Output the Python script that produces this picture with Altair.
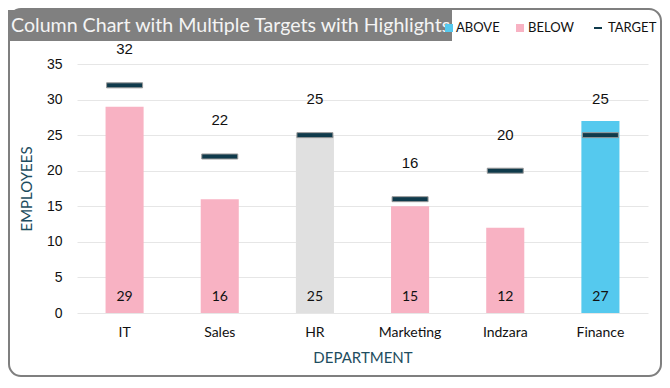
import altair as alt
import pandas as pd

departments = ["IT", "Sales", "HR", "Marketing", "Indzara", "Finance"]
employees = [29, 16, 25, 15, 12, 27]
targets = [32, 22, 25, 16, 20, 25]
status = ["ABOVE" if e > t else ("BELOW" if e < t else "EQUAL") for e, t in zip(employees, targets)]

df = pd.DataFrame({"dept": departments, "emp": employees, "target": targets, "status": status})

FONT = "Lato"
TEAL = "#1d4d60"

xaxis = alt.Axis(title="DEPARTMENT", labelAngle=0, labelFontSize=14, labelFont=FONT,
                 labelColor="#111", labelPadding=12, ticks=False, domain=False,
                 titleFont=FONT, titleFontSize=15, titleFontWeight="normal",
                 titleColor=TEAL, titlePadding=11)
yaxis = alt.Axis(title="EMPLOYEES", values=[0, 5, 10, 15, 20, 25, 30, 35],
                 labelOverlap=False, labelFontSize=14, labelFont="Liberation Sans",
                 labelColor="#111", labelPadding=15, ticks=False, domain=False,
                 gridColor="#e6e6e6",
                 titleFont=FONT, titleFontSize=15, titleFontWeight="normal",
                 titleColor=TEAL, titlePadding=12)
yscale = alt.Scale(domain=[0, 35], nice=False)

x = alt.X("dept:N", sort=departments, scale=alt.Scale(paddingInner=0.6, paddingOuter=0.3),
          axis=xaxis)
xn = alt.X("dept:N", sort=departments, axis=xaxis)

base = alt.Chart(df)

bars = base.mark_bar().encode(
    x=x, y=alt.Y("emp:Q", scale=yscale, axis=yaxis),
    color=alt.Color("status:N", scale=alt.Scale(domain=["ABOVE", "BELOW", "EQUAL"],
                                                range=["#55c9ee", "#f8b2c3", "#e0e0e0"]),
                    legend=None))

ticks = base.mark_tick(size=36, thickness=5, fill="#0f3a4b", stroke="#999999",
                       strokeWidth=1, filled=True, opacity=1).encode(
    x=xn, y=alt.Y("target:Q", scale=yscale, axis=yaxis))

target_labels = base.mark_text(fontSize=15, font="Liberation Sans", color="#111",
                               dy=-36, baseline="middle").encode(
    x=xn, y=alt.Y("target:Q", scale=yscale, axis=yaxis), text="target:Q")

bottom_labels = base.mark_text(fontSize=14, font=FONT, color="#111", dy=-16,
                               baseline="middle").encode(
    x=xn, y=alt.Y("zero:Q", scale=yscale, axis=yaxis), text="emp:Q"
).transform_calculate(zero="0")

one = alt.Chart(pd.DataFrame({"k": [0]}))

border = one.mark_rect(fill="transparent", stroke="#7f7f7f", strokeWidth=2,
                       cornerRadius=12).encode(
    x=alt.value(-68), x2=alt.value(584), y=alt.value(-55), y2=alt.value(312))

title_box = one.mark_rect(fill="#808080").encode(
    x=alt.value(-69), x2=alt.value(375), y=alt.value(-54), y2=alt.value(-23))

title_text = one.mark_text(text="Column Chart with Multiple Targets with Highlights",
                           font=FONT, fontSize=19.6, color="#f4f4f4", align="left",
                           baseline="middle").encode(x=alt.value(-66), y=alt.value(-38))

leg_sq1 = one.mark_square(size=64, color="#55c9ee", opacity=1).encode(
    x=alt.value(372), y=alt.value(-36))
leg_t1 = one.mark_text(text="ABOVE", font=FONT, fontSize=13, color="#111", align="left",
                       baseline="middle").encode(x=alt.value(379), y=alt.value(-36))
leg_sq2 = one.mark_square(size=64, color="#f8b2c3", opacity=1).encode(
    x=alt.value(443), y=alt.value(-36))
leg_t2 = one.mark_text(text="BELOW", font=FONT, fontSize=13, color="#111", align="left",
                       baseline="middle").encode(x=alt.value(451), y=alt.value(-36))
leg_dash = one.mark_rect(color="#0f3a4b").encode(
    x=alt.value(517), x2=alt.value(525), y=alt.value(-37), y2=alt.value(-35))
leg_t3 = one.mark_text(text="TARGET", font=FONT, fontSize=13, color="#111", align="left",
                       baseline="middle").encode(x=alt.value(531), y=alt.value(-36))

chart = alt.layer(border, bars, ticks, target_labels, bottom_labels, title_box, title_text,
                  leg_sq1, leg_t1, leg_sq2, leg_t2, leg_dash, leg_t3).properties(
    width=571, height=249,
    autosize=alt.AutoSizeParams(type="none"),
    padding={"left": 69, "top": 56, "right": 14, "bottom": 65},
).configure_view(stroke=None)

chart.save("out.html", embed_options={"renderer": "svg", "actions": False})
